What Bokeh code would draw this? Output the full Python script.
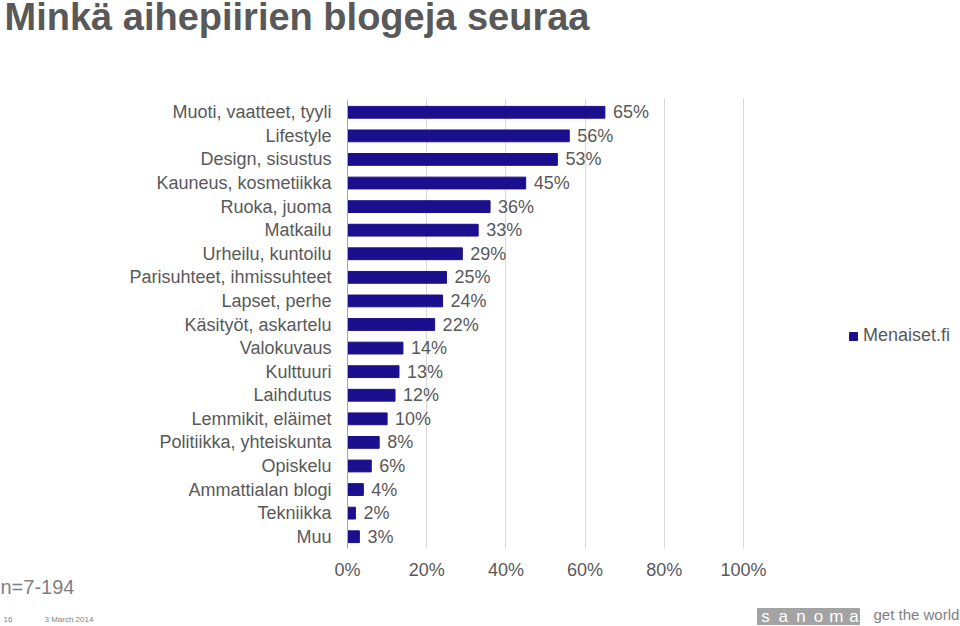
from bokeh.plotting import figure
from bokeh.models import ColumnDataSource, FixedTicker, Legend, LegendItem, Range1d
from bokeh.core.properties import value
from bokeh.embed import file_html
from bokeh.resources import INLINE

categories = ["Muoti, vaatteet, tyyli", "Lifestyle", "Design, sisustus", "Kauneus, kosmetiikka",
              "Ruoka, juoma", "Matkailu", "Urheilu, kuntoilu", "Parisuhteet, ihmissuhteet",
              "Lapset, perhe", "Käsityöt, askartelu", "Valokuvaus", "Kulttuuri", "Laihdutus",
              "Lemmikit, eläimet", "Politiikka, yhteiskunta", "Opiskelu", "Ammattialan blogi",
              "Tekniikka", "Muu"]
values = [65, 56, 53, 45, 36, 33, 29, 25, 24, 22, 14, 13, 12, 10, 8, 6, 4, 2, 3]
series_name = "Menaiset.fi"
x_ticks = [0, 20, 40, 60, 80, 100]
title_text = "Minkä aihepiirien blogeja seuraa"
note_text = "n=7-194"
page_no = "16"
date_text = "3 March 2014"
logo_letters = ["s", "a", "n", "o", "m", "a"]
slogan = "get the world"

FONT = "Liberation Sans"
TXT = "#595959"
GREY = "#7F7F7F"
BAR = "#1C0F8E"

# layout in page pixels
W, H = 960, 626
PLOT_L, PLOT_R, PLOT_T, PLOT_B = 347, 743, 100, 548
n = len(categories)
ppu_x = (PLOT_R - PLOT_L) / 100.0
slot = (PLOT_B - PLOT_T) / n
x0 = -PLOT_L / ppu_x
x1 = (W - PLOT_L) / ppu_x
y_top = -PLOT_T / slot - 0.5
y_bot = (H - PLOT_T) / slot - 0.5

idx = list(range(n))
src = ColumnDataSource(dict(pos=idx, val=values, lab=[f"{v}%" for v in values]))

p = figure(width=W, height=H, output_backend="svg", toolbar_location=None,
           x_range=Range1d(x0, x1), y_range=Range1d(y_bot, y_top),
           min_border=0, min_border_left=0, min_border_right=0,
           min_border_top=0, min_border_bottom=0)
p.outline_line_color = None
p.extra_x_ranges = {"px": Range1d(0, W)}
p.extra_y_ranges = {"px": Range1d(H, 0)}

r = p.hbar(y="pos", right="val", left=0, height=0.5, source=src, color=BAR)
p.text(x="val", y="pos", text="lab", source=src, x_offset=8, text_baseline="middle",
       text_align="left", text_font=value(FONT), text_font_size="18px", text_color=TXT)

p.xaxis.fixed_location = n - 0.5
p.xaxis.bounds = (0, 100)
p.xaxis.ticker = FixedTicker(ticks=x_ticks)
p.xaxis.major_label_overrides = {t: f"{t}%" for t in x_ticks}
p.xaxis.axis_line_color = None
p.xaxis.major_tick_line_color = None
p.xaxis.minor_tick_line_color = None
p.xaxis.major_label_text_font = FONT
p.xaxis.major_label_text_font_size = "18px"
p.xaxis.major_label_text_color = TXT
p.xaxis.major_label_standoff = 5

p.yaxis.fixed_location = 0
p.yaxis.bounds = (-0.5, n - 0.5)
p.yaxis.ticker = FixedTicker(ticks=idx)
p.yaxis.major_label_overrides = {i: c for i, c in enumerate(categories)}
p.yaxis.axis_line_color = "#A6A6A6"
p.yaxis.major_tick_line_color = None
p.yaxis.minor_tick_line_color = None
p.yaxis.major_label_text_font = FONT
p.yaxis.major_label_text_font_size = "18px"
p.yaxis.major_label_text_color = TXT
p.yaxis.major_label_standoff = 10

p.xgrid.ticker = FixedTicker(ticks=x_ticks)
p.xgrid.bounds = (0, 100)
p.xgrid.cross_bounds = (-0.58, n - 0.5)
p.xgrid.grid_line_color = "#D9D9D9"
p.ygrid.grid_line_color = None

legend = Legend(items=[LegendItem(label=series_name, renderers=[r])], location=(848, 280),
                label_text_font=FONT, label_text_font_size="18px", label_text_color=TXT,
                glyph_width=10, glyph_height=10, label_standoff=5, padding=0, margin=0,
                border_line_color=None, background_fill_alpha=0)
p.add_layout(legend, "center")

px = dict(x_range_name="px", y_range_name="px")
p.text(x=[4], y=[16], text=[title_text], text_font=value(FONT), text_font_size="38px",
       text_font_style="bold", text_color=TXT, text_baseline="alphabetic", **px)
p.text(x=[0], y=[586], text=[note_text], text_font=value(FONT), text_font_size="20px",
       text_color=GREY, text_baseline="alphabetic", **px)
p.text(x=[3, 44], y=[619, 619], text=[page_no, date_text], text_font=value(FONT),
       text_font_size="8px", text_color=GREY, text_baseline="alphabetic", **px)
p.quad(left=[757], right=[859], top=[608], bottom=[624], color="#A3A3A3", **px)
p.text(x=[765 + 17.7 * i for i in range(len(logo_letters))], y=[616] * len(logo_letters),
       text=logo_letters, text_font=value(FONT), text_font_size="17px",
       text_color="white", text_baseline="middle", text_align="center", **px)
p.text(x=[873], y=[614], text=[slogan], text_font=value(FONT), text_font_size="15px",
       text_color=GREY, text_baseline="alphabetic", **px)

open("out.html", "w").write(file_html(p, INLINE))
